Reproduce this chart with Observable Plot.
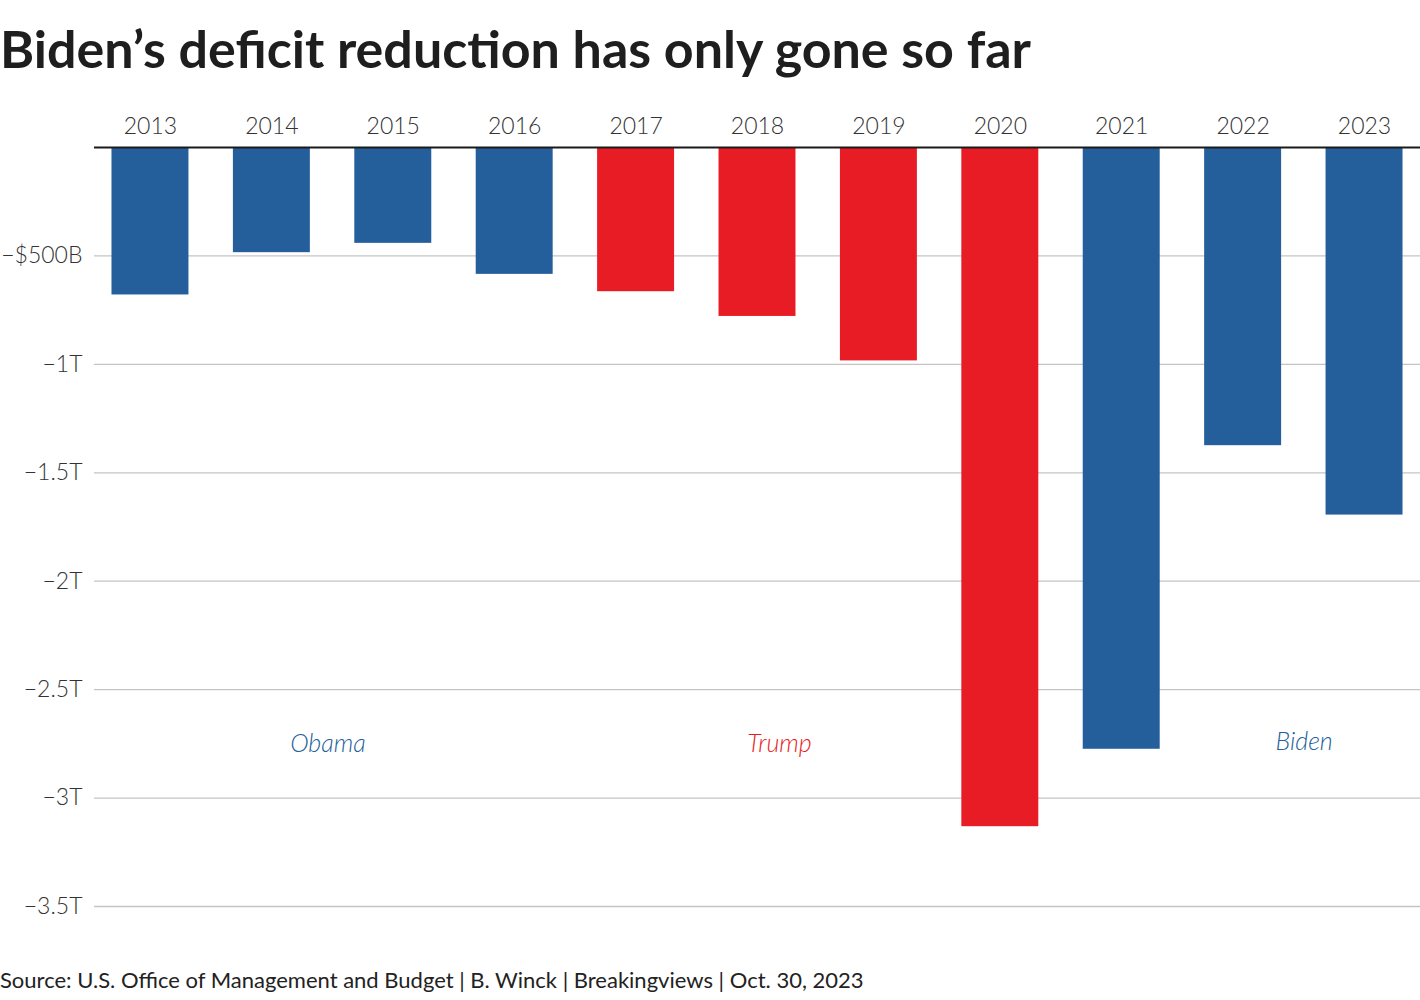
<!DOCTYPE html>
<html>
<head>
<meta charset="utf-8">
<script src="https://cdn.jsdelivr.net/npm/d3@7"></script>
<script src="https://cdn.jsdelivr.net/npm/@observablehq/plot@0.6"></script>
<style>
  html, body { margin: 0; padding: 0; background: #fff; }
  body { width: 1420px; height: 1000px; position: relative; overflow: hidden; font-family: Lato, "Noto Sans", sans-serif; }
  #title { position: absolute; left: 0; top: 20px; font-size: 52px; font-weight: 700; color: #1e1e1e; letter-spacing: 0px; white-space: nowrap; line-height: 1.1; }
  #chart { position: absolute; left: 0; top: 90px; }
  #caption { position: absolute; left: 0; top: 966px; font-size: 22px; color: #222; white-space: nowrap; }
</style>
</head>
<body>
<div id="title">Biden’s deficit reduction has only gone so far</div>
<div id="chart"></div>
<div id="caption">Source: U.S. Office of Management and Budget | B. Winck | Breakingviews | Oct. 30, 2023</div>
<script>
const years = ["2013","2014","2015","2016","2017","2018","2019","2020","2021","2022","2023"];
const deficits = [-680, -485, -442, -585, -665, -779, -984, -3132, -2775, -1375, -1695]; // $ billions
const presidents = ["Obama","Obama","Obama","Obama","Trump","Trump","Trump","Trump","Biden","Biden","Biden"];
const partyNames = ["Obama","Trump","Biden"];
const partyColors = ["#245f9b","#e81c24","#245f9b"];
const yTicks = [-500, -1000, -1500, -2000, -2500, -3000, -3500];
const yTickLabels = ["−$500B","−1T","−1.5T","−2T","−2.5T","−3T","−3.5T"];
const labelNames = ["Obama","Trump","Biden"];
const labelYears = ["2014","2018","2022"];
const labelValues = [-2750, -2750, -2740];

const rows = years.map((y, i) => ({year: y, value: deficits[i], president: presidents[i]}));
const labels = labelNames.map((n, i) => ({name: n, year: labelYears[i], value: labelValues[i], color: partyColors[partyNames.indexOf(n)]}));
const tickLabel = new Map(yTicks.map((t, i) => [t, yTickLabels[i]]));

const chart = Plot.plot({
  width: 1420,
  height: 850,
  marginTop: 57,
  marginBottom: 34,
  marginLeft: 94,
  marginRight: 0,
  style: {fontFamily: "Lato, 'Noto Sans', sans-serif", fontSize: "23px", color: "#333", background: "#fff"},
  x: {type: "band", domain: years, paddingInner: 0.366, paddingOuter: 0.144, round: false, axis: null},
  y: {domain: [-3500, 0], axis: null},
  color: {domain: partyNames, range: partyColors},
  marks: [
    Plot.ruleY(yTicks, {stroke: "#c4c4c4", strokeWidth: 1.3}),
    Plot.barY(rows, {x: "year", y: "value", fill: "president"}),
    Plot.ruleY([0], {stroke: "#1a1a1a", strokeWidth: 2}),
    Plot.axisX({anchor: "top", tickSize: 0, tickPadding: 14, fontSize: 23, fontWeight: 300, fill: "#333", label: null}),
    Plot.axisY(yTicks, {anchor: "left", tickSize: 0, tickPadding: 12, fontSize: 23, fontWeight: 300, fill: "#333", label: null, tickFormat: d => tickLabel.get(d)}),
    Plot.text(labels.filter(d => d.name === "Obama"), {x: "year", y: "value", text: "name", fill: "color", dx: 56, fontSize: 25, fontStyle: "italic", fontWeight: 300}),
    Plot.text(labels.filter(d => d.name === "Trump"), {x: "year", y: "value", text: "name", fill: "color", dx: 22, fontSize: 25, fontStyle: "italic", fontWeight: 300}),
    Plot.text(labels.filter(d => d.name === "Biden"), {x: "year", y: "value", text: "name", fill: "color", dx: 61, fontSize: 25, fontStyle: "italic", fontWeight: 300})
  ]
});
document.getElementById("chart").appendChild(chart);
</script>
</body>
</html>
